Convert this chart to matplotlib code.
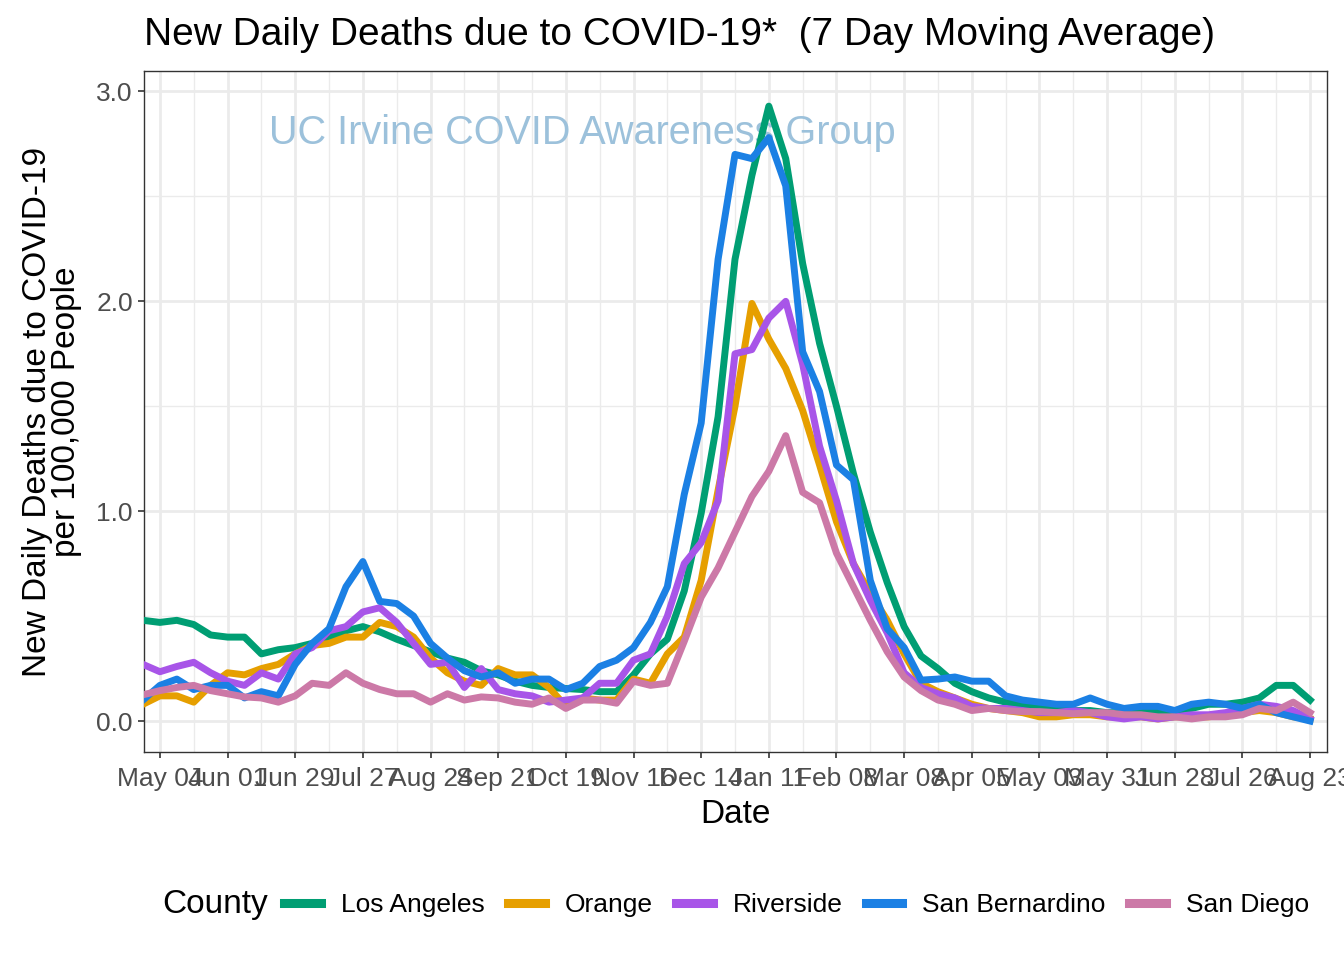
import matplotlib
matplotlib.use("Agg")
import matplotlib.pyplot as plt
import matplotlib.dates as mdates
from matplotlib.lines import Line2D
import pandas as pd

plt.rcParams['font.family'] = ['Liberation Sans', 'DejaVu Sans']

# weekly readings, Apr 27 2020 -> Aug 23 2021
dates = pd.date_range('2020-04-27', periods=70, freq='7D')

los_angeles = [0.48, 0.47, 0.48, 0.46, 0.41, 0.40, 0.40, 0.32, 0.34, 0.35,
               0.37, 0.40, 0.43, 0.45, 0.425, 0.39, 0.36, 0.33, 0.30, 0.28,
               0.24, 0.22, 0.19, 0.17, 0.16, 0.155, 0.15, 0.14, 0.14, 0.22,
               0.32, 0.39, 0.62, 0.99, 1.45, 2.20, 2.60, 2.93, 2.68, 2.18,
               1.80, 1.50, 1.18, 0.90, 0.66, 0.45, 0.31, 0.25, 0.18, 0.14,
               0.11, 0.09, 0.08, 0.07, 0.06, 0.05, 0.05, 0.04, 0.04, 0.04,
               0.05, 0.05, 0.06, 0.08, 0.08, 0.09, 0.11, 0.17, 0.17, 0.10]

orange = [0.08, 0.12, 0.12, 0.09, 0.17, 0.23, 0.22, 0.25, 0.27, 0.32,
          0.36, 0.37, 0.40, 0.40, 0.47, 0.45, 0.40, 0.30, 0.23, 0.19,
          0.17, 0.25, 0.22, 0.22, 0.16, 0.07, 0.11, 0.10, 0.10, 0.20,
          0.18, 0.32, 0.40, 0.67, 1.10, 1.50, 1.99, 1.82, 1.68, 1.48,
          1.22, 0.95, 0.75, 0.61, 0.48, 0.32, 0.18, 0.14, 0.11, 0.08,
          0.06, 0.05, 0.04, 0.02, 0.02, 0.03, 0.03, 0.02, 0.02, 0.02,
          0.01, 0.02, 0.02, 0.02, 0.03, 0.04, 0.05, 0.04, 0.02, 0.01]

riverside = [0.27, 0.235, 0.26, 0.28, 0.23, 0.19, 0.17, 0.23, 0.20, 0.32,
             0.35, 0.43, 0.45, 0.52, 0.54, 0.47, 0.37, 0.27, 0.28, 0.16,
             0.25, 0.15, 0.13, 0.12, 0.09, 0.10, 0.11, 0.18, 0.18, 0.29,
             0.32, 0.50, 0.75, 0.85, 1.05, 1.75, 1.77, 1.92, 2.00, 1.70,
             1.31, 1.05, 0.75, 0.575, 0.42, 0.23, 0.16, 0.13, 0.11, 0.07,
             0.06, 0.06, 0.05, 0.04, 0.04, 0.05, 0.04, 0.02, 0.01, 0.02,
             0.01, 0.02, 0.03, 0.03, 0.04, 0.06, 0.08, 0.07, 0.05, 0.01]

san_bernardino = [0.10, 0.17, 0.20, 0.15, 0.17, 0.17, 0.11, 0.14, 0.12, 0.27,
                  0.37, 0.44, 0.64, 0.76, 0.57, 0.56, 0.50, 0.37, 0.30, 0.24,
                  0.21, 0.23, 0.18, 0.20, 0.20, 0.15, 0.18, 0.26, 0.29, 0.35,
                  0.47, 0.64, 1.08, 1.42, 2.20, 2.70, 2.68, 2.78, 2.55, 1.76,
                  1.57, 1.22, 1.15, 0.67, 0.44, 0.35, 0.195, 0.20, 0.21, 0.19,
                  0.19, 0.12, 0.10, 0.09, 0.08, 0.08, 0.11, 0.08, 0.06, 0.07,
                  0.07, 0.05, 0.08, 0.09, 0.08, 0.06, 0.08, 0.04, 0.02, 0.00]

san_diego = [0.125, 0.145, 0.16, 0.17, 0.145, 0.13, 0.115, 0.11, 0.09, 0.12,
             0.18, 0.17, 0.23, 0.18, 0.15, 0.13, 0.13, 0.09, 0.13, 0.10,
             0.115, 0.11, 0.09, 0.08, 0.11, 0.06, 0.10, 0.10, 0.085, 0.19,
             0.17, 0.18, 0.38, 0.59, 0.73, 0.90, 1.07, 1.19, 1.36, 1.09,
             1.04, 0.80, 0.64, 0.48, 0.33, 0.21, 0.145, 0.10, 0.08, 0.05,
             0.06, 0.05, 0.045, 0.045, 0.04, 0.035, 0.04, 0.04, 0.03, 0.03,
             0.02, 0.02, 0.01, 0.02, 0.02, 0.03, 0.06, 0.05, 0.09, 0.04]

counties = ['Los Angeles', 'Orange', 'Riverside', 'San Bernardino', 'San Diego']
series = [los_angeles, orange, riverside, san_bernardino, san_diego]
colors = ['#009E73', '#E69F00', '#A855E8', '#1B80E4', '#CC79A7']

tick_dates = pd.date_range('2020-05-04', periods=18, freq='28D')
minor_dates = pd.date_range('2020-05-18', periods=17, freq='28D')

fig = plt.figure(figsize=(13.44, 9.6), dpi=100)
ax = fig.add_axes([144/1344, 1-752/960, (1327-144)/1344, (752-71)/960])

for name, vals, c in zip(counties, series, colors):
    ax.plot(dates, vals, color=c, lw=5, solid_joinstyle='round', zorder=3)

ax.set_xlim(pd.Timestamp('2020-04-27 10:00'), pd.Timestamp('2021-08-30'))
ax.set_ylim(-0.1475, 3.0975)

ax.set_xticks(tick_dates)
ax.set_xticks(minor_dates, minor=True)
ax.xaxis.set_major_formatter(mdates.DateFormatter('%b %d'))
ax.set_yticks([0, 1, 2, 3])
ax.set_yticks([0.5, 1.5, 2.5], minor=True)
ax.set_yticklabels(['0.0', '1.0', '2.0', '3.0'])

ax.grid(which='major', color='#EBEBEB', lw=2.0, zorder=0)
ax.grid(which='minor', color='#EBEBEB', lw=1.0, zorder=0)
ax.set_axisbelow(True)
ax.tick_params(which='major', length=4, width=1.2, color='#333333',
               labelsize=19, labelcolor='#4D4D4D', pad=4)
ax.tick_params(axis='x', which='major', pad=6.5)
ax.tick_params(which='minor', length=0)
for s in ax.spines.values():
    s.set_color('#333333')
    s.set_linewidth(1.0)

ax.set_xlabel('Date', fontsize=24, labelpad=6)
ax.set_ylabel('New Daily Deaths due to COVID-19\nper 100,000 People',
              fontsize=24, linespacing=0.95)
ax.yaxis.set_label_coords(-0.052, 0.5)

ax.text(0.1057, 0.909, 'UC Irvine COVID Awareness Group', transform=ax.transAxes,
        fontsize=28.5, color='#9CC1DB', ha='left', va='center', zorder=2)

fig.text(144/1344, 1-35/960, 'New Daily Deaths due to COVID-19*  (7 Day Moving Average)',
         fontsize=28, ha='left', va='center')

handles = [Line2D([0], [0], color=c, lw=6.5) for c in colors]
fig.text(162/1344, 1-905/960, 'County', fontsize=24, ha='left', va='center')
fig.legend(handles, counties, loc='center left', bbox_to_anchor=(284/1344, 1-905/960),
           ncol=5, frameon=False, fontsize=19, handlelength=1.4, handletextpad=0.76,
           columnspacing=0.87, borderpad=0, borderaxespad=0)

fig.savefig('out.png', dpi=100)
